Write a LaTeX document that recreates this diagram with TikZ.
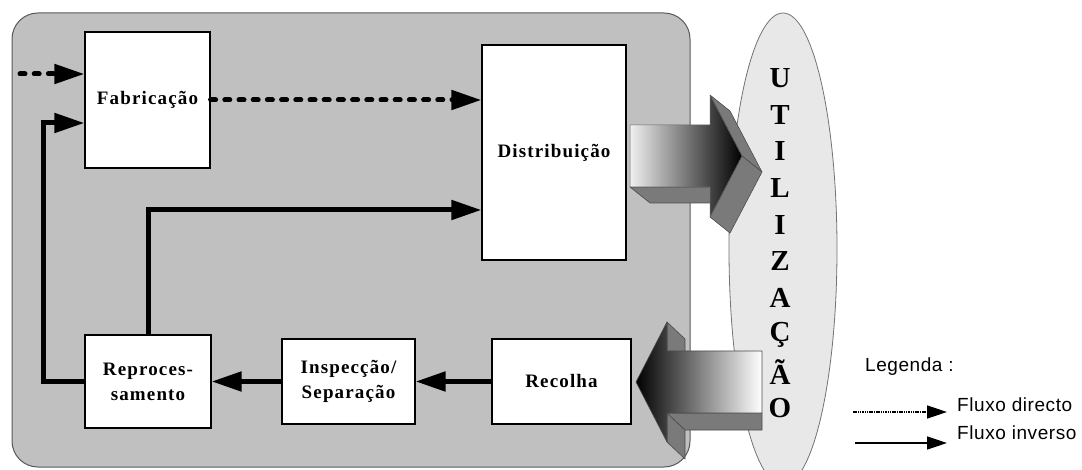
\documentclass[tikz,border=0pt]{standalone}
\usepackage{fontspec}
\setmainfont{Liberation Serif}
\newfontfamily\boxfont{Liberation Serif}[LetterSpace=6]
\newfontfamily\legfont{Liberation Sans}[LetterSpace=3]
\usetikzlibrary{arrows.meta}
\definecolor{panel}{HTML}{C0C0C0}
\definecolor{oval}{HTML}{E8E8E8}
\definecolor{face}{HTML}{7A7A7A}
\begin{document}
\begin{tikzpicture}[x=1pt,y=-1pt,
  box/.style={draw=black, line width=1.2pt, fill=white, align=center, inner sep=0pt,
    font=\boxfont\bfseries\fontsize{19}{25}\selectfont},
  flow/.style={line width=5pt, -{Triangle[length=30pt,width=19pt]}},
  dotflow/.style={flow, dash pattern=on 5pt off 9.2pt, line cap=round},
  legtext/.style={font=\legfont\fontsize{19}{21}\selectfont, anchor=west, inner sep=0pt},
  legflow/.style={line width=1.5pt, -{Triangle[length=20pt,width=13pt]}},
  sideface/.style={fill=face, draw=black!70, line width=0.6pt, line join=round},
  letter/.style={font=\bfseries\fontsize{29}{29}\selectfont, inner sep=0pt}
]
\useasboundingbox (0,0) rectangle (1082,470);
\fill[white] (0,0) rectangle (1082,470);

% panel
\draw[fill=panel, draw=black!65, line width=1pt, rounded corners=26pt] (12,13) rectangle (690,467);

% utilization oval
\draw[fill=oval, draw=black!55, line width=0.8pt] (783,249) ellipse [x radius=54pt, y radius=236pt];
\foreach \l [count=\i from 0] in {U,T,I,L,I,Z,A,Ç,Ã,O}
  \node[letter] (u\i) at (780,78+36.7*\i) {\l};

% boxes
\node[box, minimum width=125pt, minimum height=136pt] (fab) at (147.5,100) {Fabricação};
\node[box, minimum width=144pt, minimum height=215pt] (dist) at (554,152.5) {Distribuição};
\node[box, minimum width=126pt, minimum height=93pt] (rep) at (148,381.5) {Reproces-\\samento};
\node[box, minimum width=133pt, minimum height=85pt] (insp) at (348.5,381.5) {Inspecção/\\Separação};
\node[box, minimum width=139pt, minimum height=85pt] (rec) at (561.5,381.5) {Recolha};

% connectors
\coordinate (in1) at (20,74);
\coordinate (c1) at (43,123);
\coordinate (c2) at (148,210);
\draw[dotflow] (in1) -- (in1 -| fab.west);
\draw[dotflow] (fab.east) -- (fab.east -| dist.west);
\draw[flow] (rep.west) -| (c1) -- (c1 -| fab.west);
\draw[flow] (rep.north) -- (c2) -- (c2 -| dist.west);
\draw[flow] (rec.west) -- (insp.east);
\draw[flow] (insp.west) -- (rep.east);

% 3D arrow out (to utilization)
\draw[sideface] (710,187) -- (630,187) -- (650,203) -- (730,203) -- cycle;
\draw[sideface] (710,95) -- (742,156) -- (762,172) -- (730,111) -- cycle;
\draw[sideface] (742,156) -- (710,217) -- (730,233) -- (762,172) -- cycle;
\shadedraw[left color=black!6, right color=black, draw=black!60, line width=0.5pt, line join=round]
  (630,125) -- (710,125) -- (710,95) -- (742,156) -- (710,217) -- (710,187) -- (630,187) -- cycle;

% 3D arrow in (from utilization)
\draw[sideface] (667,322) -- (667,351) -- (685,368) -- (685,339) -- cycle;
\draw[sideface] (667,413) -- (667,442) -- (685,459) -- (685,430) -- cycle;
\draw[sideface] (762,413) -- (667,413) -- (685,430) -- (762,430) -- cycle;
\shadedraw[left color=black, right color=white, draw=black!70, line width=0.6pt, line join=round]
  (636,382) -- (667,322) -- (667,351) -- (762,351) -- (762,413) -- (667,413) -- (667,442) -- cycle;

% legend
\node[legtext] (leg) at (865,367) {Legenda :};
\node[legtext] (ld) at (957,405) {Fluxo directo};
\node[legtext] (li) at (957,433) {Fluxo inverso};
\coordinate (ld0) at (853,412);
\coordinate (ld1) at (947,412);
\coordinate (li0) at (855,443);
\coordinate (li1) at (947,443);
\draw[legflow, dash pattern=on 1.5pt off 0.8pt] (ld0) -- (ld1);
\draw[legflow] (li0) -- (li1);
\end{tikzpicture}
\end{document}
